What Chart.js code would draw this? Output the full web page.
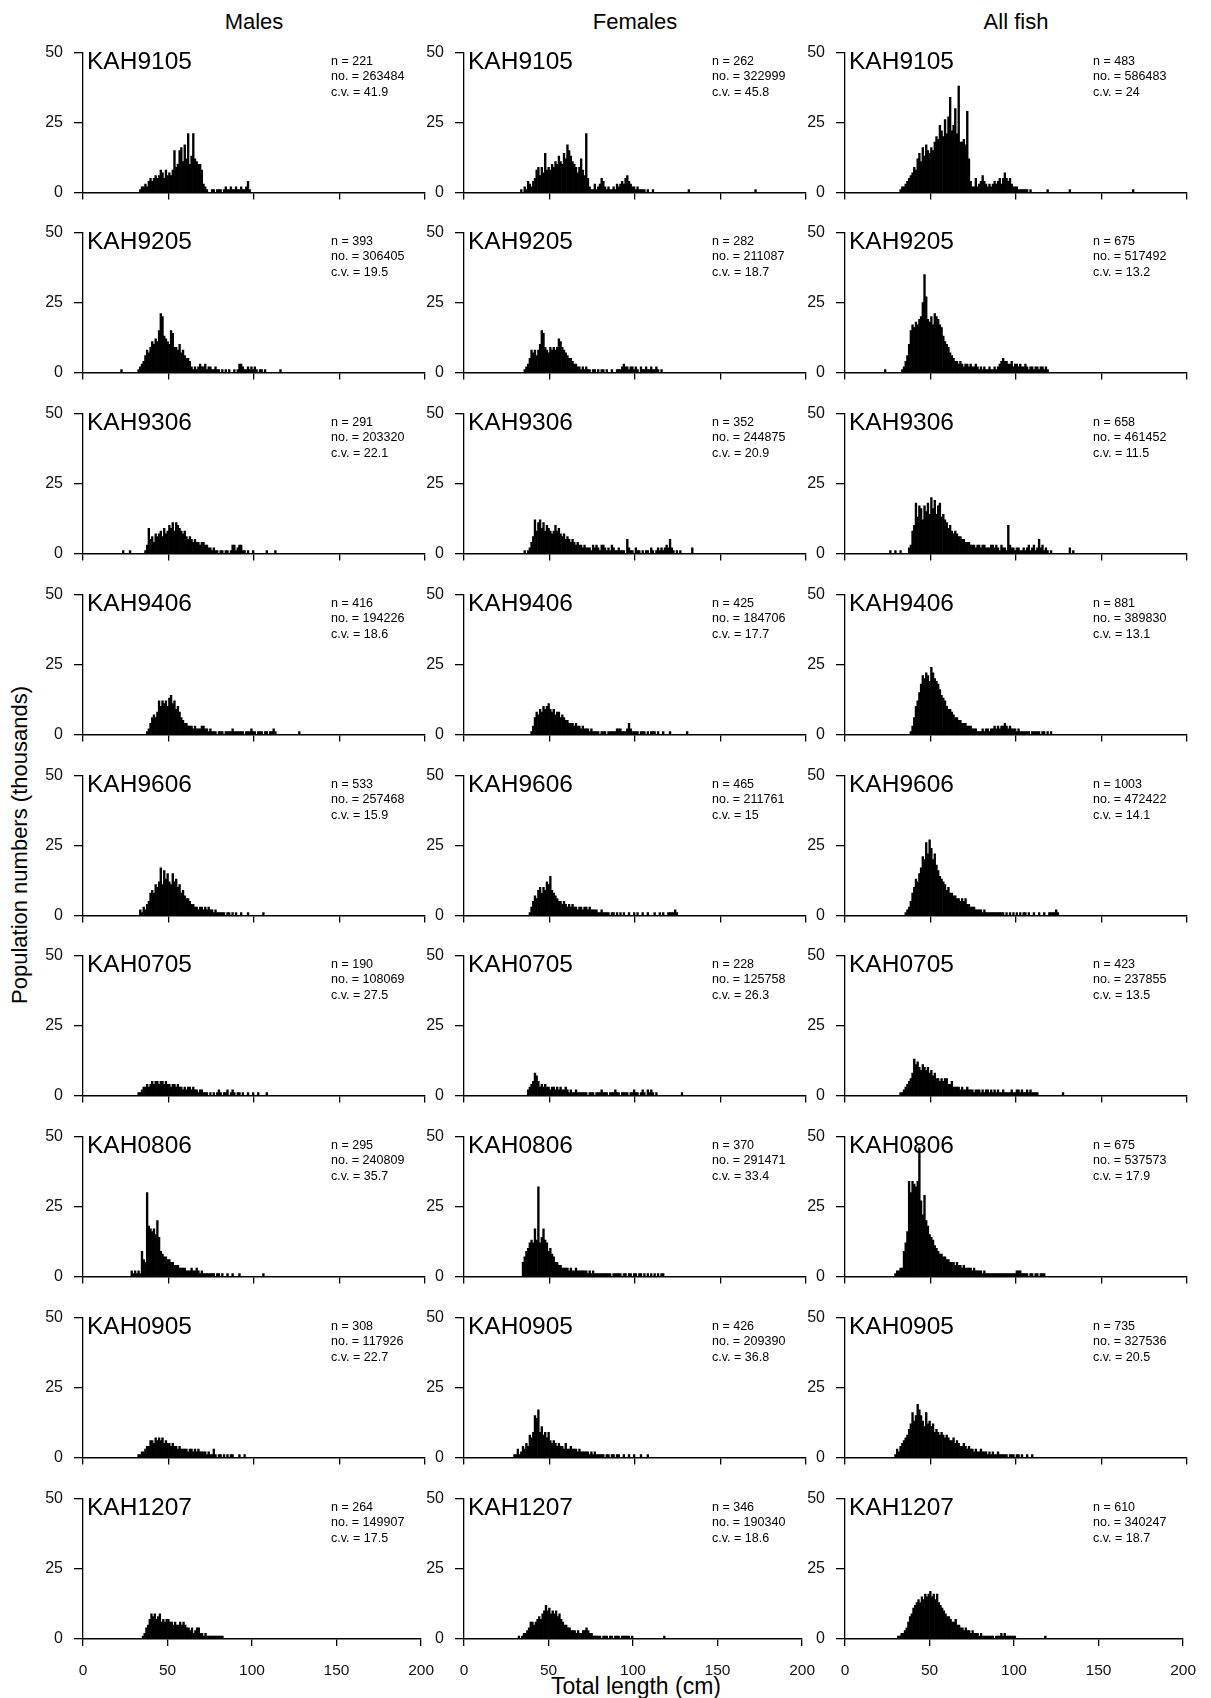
<!DOCTYPE html>
<html>
<head>
<meta charset="utf-8">
<script src="https://cdn.jsdelivr.net/npm/chart.js@4.4.1/dist/chart.umd.min.js"></script>
<style>
  html, body { margin: 0; padding: 0; background: #fff; }
  body { width: 1211px; height: 1698px; position: relative; overflow: hidden;
         font-family: "Liberation Sans", Arial, Helvetica, sans-serif; color: #000; }
  .panel { position: absolute; }
  .panel canvas { display: block; }
  .lbl { position: absolute; white-space: nowrap; transform: translate(-50%, -50%); }
</style>
</head>
<body>
<script>
// ---------- categories / labels ----------
const surveys = ['KAH9105','KAH9205','KAH9306','KAH9406','KAH9606','KAH0705','KAH0806','KAH0905','KAH1207'];
const groups = ['Males','Females','All fish'];
const xTicks = [0, 50, 100, 150, 200];
const yTicks = [0, 25, 50];

// ---------- panel statistics ----------
const nMales = ['221','393','291','416','533','190','295','308','264'];
const noMales = ['263484','306405','203320','194226','257468','108069','240809','117926','149907'];
const cvMales = ['41.9','19.5','22.1','18.6','15.9','27.5','35.7','22.7','17.5'];
const nFemales = ['262','282','352','425','465','228','370','426','346'];
const noFemales = ['322999','211087','244875','184706','211761','125758','291471','209390','190340'];
const cvFemales = ['45.8','18.7','20.9','17.7','15','26.3','33.4','36.8','18.6'];
const nAll = ['483','675','658','881','1003','423','675','735','610'];
const noAll = ['586483','517492','461452','389830','472422','237855','537573','327536','340247'];
const cvAll = ['24','13.2','11.5','13.1','14.1','13.5','17.9','20.5','18.7'];

// ---------- first 1-cm length bin of each value array ----------
const startMales   = [33, 32, 36, 37, 33, 32, 28, 32, 35];
const startFemales = [33, 35, 35, 39, 38, 37, 34, 29, 32];
const startAll     = [32, 33, 37, 38, 35, 32, 29, 29, 31];

// ---------- population numbers (thousands) per 1-cm bin ----------
const M_KAH9105 = [1,2,2,3,2, 4,5,4,5,6, 5,6,8,7,5, 8,6,7,6,8, 15,9,10,15,16, 11,17,12,21,10, 13,21,12,11,10, 10,8,3,2,1, 0,0,1,1,0, 1,1,1,0,1, 2,1,1,2,1, 1,2,1,1,2, 1,1,2,4,1];
const F_KAH9105 = [1,0,2,1,4, 3,2,4,5,8, 9,6,9,7,14, 8,9,8,10,9, 11,10,13,11,10, 14,12,17,15,13, 11,10,9,7,9, 12,8,6,21,5, 2,1,1,3,1, 2,3,5,4,2, 1,2,1,1,2, 1,3,2,3,4, 3,5,6,4,3, 2,2,1,2,1, 1,1,1,0,1, 0,0,1];
const A_KAH9105 = [1,2,2,3,4, 5,6,7,9,8, 12,14,11,16,13, 17,15,14,16,15, 18,20,19,24,22, 20,26,21,27,34, 22,24,30,21,38, 18,18,19,17,29, 12,4,2,2,5, 2,3,4,6,4, 3,2,3,2,3, 4,3,4,5,3, 5,7,5,4,5, 3,2,2,2,1, 1,1,1,1,1, 0,1];

const M_KAH9205 = [1,2,3,4,6, 8,7,9,11,10, 12,11,15,21,20, 13,12,11,10,15, 14,9,9,8,10, 7,8,6,5,5, 4,2,1,2,1, 2,3,2,2,3, 1,2,2,1,1, 2,1,1,0,1, 0,1,0,1,0, 0,1,0,1,3, 3,2,1,1,2, 1,2,1,2,1, 0,1,1,0,1];
const F_KAH9205 = [1,2,3,5,8, 7,8,6,8,10, 15,14,9,8,7, 9,8,9,8,9, 12,11,9,8,7, 6,5,5,4,3, 3,2,2,1,2, 1,2,1,1,0, 1,1,0,1,0, 1,1,0,1,0, 0,1,0,0,1, 1,1,2,3,2, 2,1,2,2,1, 2,1,0,2,1, 1,2,1,1,2, 1,1,2,1,0,1];
const A_KAH9205 = [1,2,4,6,10, 15,17,16,18,17, 19,20,25,35,27, 19,18,20,17,21, 20,19,17,16,13, 11,10,9,7,6, 5,4,4,3,4, 3,2,3,3,2, 3,2,2,3,2, 1,2,1,2,1, 1,2,1,1,2, 1,2,3,4,5, 4,4,3,3,4, 2,3,3,2,3, 2,2,3,2,1, 2,2,1,2,2, 1,2,2,1,2,1];

const M_KAH9306 = [1,3,9,5,6, 4,7,6,7,8, 6,9,7,8,10, 9,11,8,11,10, 9,8,7,8,6, 5,6,5,4,5, 4,4,3,4,4, 3,3,2,2,1, 2,1,1,0,1, 1,0,1,1,0, 1,3,3,1,2, 3,3,1,1,0, 1,0,0,1,0];
const F_KAH9306 = [1,0,1,2,4, 6,12,8,11,12, 9,11,8,10,9, 8,7,8,10,8, 9,7,6,7,5, 6,5,4,5,4, 3,4,3,3,2, 3,2,2,2,1, 3,2,3,2,1, 3,3,2,1,2, 1,3,2,1,1, 2,1,1,1,0, 5,2,1,1,0, 2,1,1,0,1, 0,1,1,0,2, 1,0,1,2,1, 2,1,2,3,2, 5,2,1,0,1, 0,1];
const A_KAH9306 = [2,3,8,10,18, 13,17,16,12,17, 15,18,14,20,16, 19,14,17,18,13, 14,12,11,9,10, 8,7,8,7,6, 6,5,5,4,4, 4,3,3,3,2, 3,3,2,3,3, 2,2,2,3,3, 2,3,2,1,3, 2,2,1,10,3, 2,2,1,2,2, 1,1,2,1,2, 3,1,2,3,1, 2,5,2,3,1, 2,1,0,1];

const M_KAH9406 = [1,2,4,6,7, 6,8,12,10,12, 11,12,10,13,14, 11,12,9,10,8, 6,5,4,4,3, 3,3,2,3,2, 2,2,3,3,2, 2,1,2,1,1, 1,0,1,1,1, 0,1,1,1,1, 2,1,1,1,1, 1,1,0,1,1, 1,2,1,1,0, 1,1,1,0,1, 1,0,1,1,2,1];
const F_KAH9406 = [1,3,6,8,7, 9,8,10,9,10, 11,9,8,9,7, 8,8,6,7,6, 5,5,4,4,4, 3,4,3,3,2, 3,2,2,2,1, 2,1,1,1,1, 0,1,1,1,0, 1,1,1,1,1, 2,2,2,1,1, 1,2,4,2,1, 1,1,1,0,1, 1,1,0,1,0, 1,1,1,0,1, 0,0,1,0,0, 0,1];
const A_KAH9406 = [1,3,6,10,12, 15,18,21,20,22, 21,19,24,22,20, 19,18,16,14,13, 12,10,9,9,8, 7,6,6,5,5, 4,4,4,3,3, 3,2,2,2,1, 1,1,2,1,2, 2,1,2,2,3, 2,3,2,3,3, 4,3,2,3,2, 2,2,1,2,1, 1,1,1,1,1, 0,1,1,1,1, 1,0,1,1,0, 1,0,1];

const M_KAH9606 = [2,1,3,2,4, 5,8,9,8,11, 10,12,17,11,16, 13,15,12,11,15, 12,13,10,11,8, 9,7,6,6,5, 4,4,3,3,2, 3,3,2,3,2, 3,2,2,1,2, 1,1,1,1,1, 0,1,1,0,1, 0,1,0,0,1, 0,0,0,1];
const F_KAH9606 = [1,3,5,7,6, 9,10,8,10,9, 12,11,14,9,8, 7,6,5,5,4, 5,4,3,4,3, 4,3,3,2,3, 3,2,3,3,2, 3,2,2,2,2, 1,1,2,1,1, 1,1,0,1,1, 0,1,0,1,0, 1,0,0,1,0, 0,1,0,1,0, 0,1,0,0,1, 0,0,0,1,0, 0,1,0,1,0, 0,1,1,1,1, 2,1];
const A_KAH9606 = [1,2,3,5,8, 10,13,12,15,17, 21,20,26,22,27, 24,20,22,18,16, 14,13,12,11,9, 10,8,8,7,7, 6,6,5,6,5, 6,4,4,3,3, 3,2,2,2,2, 1,2,1,1,1, 1,1,1,1,1, 1,1,1,0,1, 0,1,0,1,0, 1,0,1,0,1, 1,0,1,0,0, 1,0,0,1,0, 0,1,0,0,1, 1,1,1,2,1];

const M_KAH0705 = [1,1,2,3,3, 4,3,4,5,4, 5,5,4,5,5, 4,5,4,4,3, 4,4,3,4,3, 3,2,3,2,3, 3,2,3,2,2, 1,2,2,1,1, 1,0,1,0,1, 0,1,2,1,0, 1,1,2,0,1, 2,1,0,1,1, 0,1,0,0,1, 0,0,1,0,0, 1];
const F_KAH0705 = [2,3,4,5,8, 7,5,3,4,3, 4,3,3,2,3, 3,2,3,2,3, 2,2,3,2,1, 2,1,1,2,1, 1,1,1,1,1, 0,1,1,1,0, 1,1,1,2,1, 1,1,0,1,1, 1,2,1,1,0, 1,1,1,1,0, 1,1,2,1,1, 0,1,2,1,0, 2,1,2,1,0,1];
const A_KAH0705 = [1,1,2,3,4, 5,6,8,13,11, 12,10,9,11,10, 9,10,8,9,7, 8,6,6,5,6, 5,6,6,4,4, 5,3,3,3,3, 2,3,2,2,3, 2,2,2,1,2, 2,2,1,2,1, 2,2,1,2,1, 2,1,2,1,1, 2,1,1,1,1, 2,1,1,2,2, 1,2,1,1,2, 1,2,1,1,1,1];

const M_KAH0806 = [2,1,2,1,2, 1,9,6,5,30, 18,17,16,17,15, 20,14,9,8,7, 7,6,6,5,5, 4,4,4,3,3, 3,3,2,2,2, 3,2,2,3,2, 1,2,1,1,1, 1,1,1,1,0, 1,1,0,1,0, 0,1,0,0,1, 0,0,0,1];
const F_KAH0806 = [5,7,9,10,12, 13,12,17,13,32, 12,14,17,13,12, 9,10,8,7,5, 5,4,4,3,3, 3,3,2,3,2, 2,3,2,2,2, 2,2,2,1,2, 1,2,1,1,1, 1,1,1,1,1, 1,1,0,1,1, 1,1,1,0,1, 1,0,1,1,0, 1,1,0,1,1, 0,1,0,1,0, 1,0,1,0,1, 0,1,1];
const A_KAH0806 = [1,2,2,3,3, 9,12,16,34,30, 34,33,32,34,46, 27,22,29,20,18, 15,14,13,11,10, 9,8,8,7,7, 6,6,5,5,5, 4,5,4,4,3, 4,3,3,3,3, 2,3,2,2,2, 2,1,2,1,1, 1,1,1,1,1, 1,1,1,1,1, 1,1,1,1,1, 1,2,2,2,1, 1,1,1,0,1, 1,0,1,1,0, 1,1,1];

const M_KAH0905 = [1,1,2,2,3, 4,4,6,6,5, 7,6,7,6,7, 5,6,5,5,4, 5,4,4,3,4, 3,3,3,3,2, 3,3,2,3,2, 3,2,2,2,2, 1,2,1,1,3, 1,0,1,1,0, 1,0,1,0,1, 1,0,0,0,1, 0,0,1];
const F_KAH0905 = [1,1,3,1,2, 4,3,5,4,8, 7,9,15,14,17, 9,11,8,9,7, 9,6,5,6,5, 4,5,4,4,3, 5,3,3,4,3, 3,3,2,3,2, 2,2,2,2,1, 2,1,2,1,1, 1,1,1,0,1, 1,0,1,1,0, 1,1,0,0,1, 0,0,1,0,0, 1,0,0,0,1, 0,0,0,1];
const A_KAH0905 = [1,3,2,4,5, 6,7,8,10,12, 16,13,15,19,17, 15,13,11,16,12, 13,11,12,9,10, 9,8,9,8,7, 8,7,6,6,7, 5,6,5,4,4, 5,4,3,4,3, 3,2,3,2,2, 3,2,2,2,1, 2,1,2,1,1, 2,1,1,1,1, 1,0,1,1,1, 0,1,1,0,1, 0,0,1,0,0,1];

const M_KAH1207 = [1,2,4,5,7, 9,8,9,7,8, 9,6,7,6,7, 7,6,6,5,6, 5,5,6,5,6, 5,4,4,3,4, 2,3,4,4,2, 2,1,2,1,1, 1,1,1,1,1, 1,1,1];
const F_KAH1207 = [1,0,1,2,2, 3,4,6,6,5, 6,7,8,7,9, 10,12,10,11,9, 10,9,10,8,9, 7,6,5,5,4, 4,3,3,3,2, 3,2,2,3,3, 4,3,2,2,1, 1,1,1,1,0, 1,1,1,0,1, 1,0,1,1,1, 0,1,1,1,1, 1,0,1];
const A_KAH1207 = [1,1,2,2,3, 4,6,8,9,11, 12,13,14,13,15, 14,16,15,16,17, 15,16,14,16,13, 12,11,10,9,8, 8,7,6,6,7, 5,5,4,4,3, 4,3,3,2,3, 2,2,2,1,2, 1,1,1,1,1, 1,1,0,1,1, 1,2,1,2,1, 1,1,1,1,1];

// isolated bars outside the main runs: [length bin, thousands]
const extrasMales   = [[], [[22,1],[115,1]], [[23,1],[27,1],[107,1],[112,1]], [[126,1]], [[105,1]], [[107,1]], [[105,1]], [], []];
const extrasFemales = [[[131,1],[170,1]], [], [[133,2]], [[130,1]], [], [[127,1]], [], [], [[118,1]]];
const extrasAll     = [[[118,1],[131,1],[168,1]], [[23,1]], [[26,1],[29,1],[32,1],[131,2],[133,1]], [], [], [[127,1]], [], [], [[118,1]]];

const valuesMales   = [M_KAH9105, M_KAH9205, M_KAH9306, M_KAH9406, M_KAH9606, M_KAH0705, M_KAH0806, M_KAH0905, M_KAH1207];
const valuesFemales = [F_KAH9105, F_KAH9205, F_KAH9306, F_KAH9406, F_KAH9606, F_KAH0705, F_KAH0806, F_KAH0905, F_KAH1207];
const valuesAll     = [A_KAH9105, A_KAH9205, A_KAH9306, A_KAH9406, A_KAH9606, A_KAH0705, A_KAH0806, A_KAH0905, A_KAH1207];

// ---------- layout ----------
const FONT = '"Liberation Sans", Arial, Helvetica, sans-serif';
const colX0 = [83, 464, 845];       // pixel of 0 cm per column
const plotW = 342, plotH = 140;
const rowTop0 = 52.6, rowStep = 180.76;
const padL = 50, padR = 24;

function addLabel(text, cx, cy, size, rotate) {
  const d = document.createElement('div');
  d.className = 'lbl';
  d.textContent = text;
  d.style.left = cx + 'px';
  d.style.top = cy + 'px';
  d.style.fontSize = size + 'px';
  if (rotate) d.style.transform = 'translate(-50%, -50%) rotate(-90deg)';
  document.body.appendChild(d);
}

groups.forEach((g, c) => addLabel(g, colX0[c] + plotW / 2, 22, 22));
addLabel('Population numbers (thousands)', 20, 845, 22, true);
addLabel('Total length (cm)', 636, 1686, 23);

const panelText = {
  id: 'panelText',
  beforeDatasetsDraw(chart, args, opts) {
    const ctx = chart.ctx, xs = chart.scales.x, ys = chart.scales.y;
    ctx.save();
    ctx.fillStyle = '#000';
    ctx.textAlign = 'left';
    ctx.textBaseline = 'middle';
    ctx.font = '24.5px ' + FONT;
    ctx.fillText(opts.title, xs.left + 4, ys.top + 10);
    ctx.font = '12.5px ' + FONT;
    opts.lines.forEach((t, i) => ctx.fillText(t, xs.left + 248, ys.top + 8.5 + i * 15.6));
    ctx.restore();
  }
};

function buildData(start, vals, extras) {
  const pts = vals.map((v, i) => ({ x: start + i + 0.5, y: v }));
  extras.forEach(e => pts.push({ x: e[0] + 0.5, y: e[1] }));
  pts.sort((a, b) => a.x - b.x);
  return pts;
}

function makeConfig(title, lines, pts, isBottom, xh) {
  return {
    type: 'bar',
    data: {
      datasets: [{
        data: pts,
        backgroundColor: '#000',
        borderWidth: 0,
        barPercentage: 1,
        categoryPercentage: 1
      }]
    },
    options: {
      responsive: false,
      maintainAspectRatio: false,
      animation: false,
      events: [],
      devicePixelRatio: 1,
      layout: { padding: { left: 0, top: 0, right: padR, bottom: 0 } },
      plugins: {
        legend: { display: false },
        tooltip: { enabled: false },
        panelText: { title: title, lines: lines }
      },
      scales: {
        x: {
          type: 'linear',
          min: 0, max: 200,
          offset: false,
          afterBuildTicks: sc => { sc.ticks = xTicks.map(v => ({ value: v })); },
          afterFit: sc => { sc.height = xh; },
          grid: { display: true, offset: false, drawOnChartArea: false, drawTicks: true, tickLength: 7, color: '#000', lineWidth: 1.3 },
          border: { display: true, color: '#000', width: 1.6 },
          ticks: { display: isBottom, padding: 15, color: '#111', font: { family: FONT, size: 15.5 }, maxRotation: 0, autoSkip: false }
        },
        y: {
          type: 'linear',
          min: 0, max: 50,
          afterBuildTicks: sc => { sc.ticks = yTicks.map(v => ({ value: v })); },
          afterFit: sc => { sc.width = padL; },
          grid: { display: true, drawOnChartArea: false, drawTicks: true, tickLength: 9, color: '#000', lineWidth: 1.3 },
          border: { display: true, color: '#000', width: 1.3 },
          ticks: { padding: 11, color: '#111', font: { family: FONT, size: 16 } }
        }
      }
    },
    plugins: [panelText]
  };
}

const cols = [
  { start: startMales, vals: valuesMales, extras: extrasMales, n: nMales, no: noMales, cv: cvMales },
  { start: startFemales, vals: valuesFemales, extras: extrasFemales, n: nFemales, no: noFemales, cv: cvFemales },
  { start: startAll, vals: valuesAll, extras: extrasAll, n: nAll, no: noAll, cv: cvAll }
];

surveys.forEach((s, r) => {
  const isBottom = r === surveys.length - 1;
  const xh = isBottom ? 50 : 16;
  const y50 = rowTop0 + rowStep * r;
  cols.forEach((col, c) => {
    const W = padL + plotW + padR;
    const pts = buildData(col.start[r], col.vals[r], col.extras[r]);
    const lines = ['n = ' + col.n[r], 'no. = ' + col.no[r], 'c.v. = ' + col.cv[r]];
    const div = document.createElement('div');
    div.className = 'panel';
    document.body.appendChild(div);

    // first pass: measure where Chart.js puts the plotting area
    const H = 200;
    let cv = document.createElement('canvas');
    cv.width = W; cv.height = H;
    div.style.width = W + 'px'; div.style.height = H + 'px';
    div.appendChild(cv);
    let chart = new Chart(cv, makeConfig(s, lines, pts, isBottom, xh));
    const a = chart.chartArea;
    const topOff = Math.round(a.top);
    const H2 = Math.round(H + (plotH - (a.bottom - a.top)));
    chart.destroy();
    div.removeChild(cv);

    // second pass: canvas sized so the plot area is exactly plotW x plotH
    cv = document.createElement('canvas');
    cv.width = W; cv.height = H2;
    div.style.width = W + 'px'; div.style.height = H2 + 'px';
    div.style.left = (colX0[c] - padL) + 'px';
    div.style.top = Math.round(y50 - topOff) + 'px';
    div.appendChild(cv);
    new Chart(cv, makeConfig(s, lines, pts, isBottom, xh));
  });
});
</script>
</body>
</html>
